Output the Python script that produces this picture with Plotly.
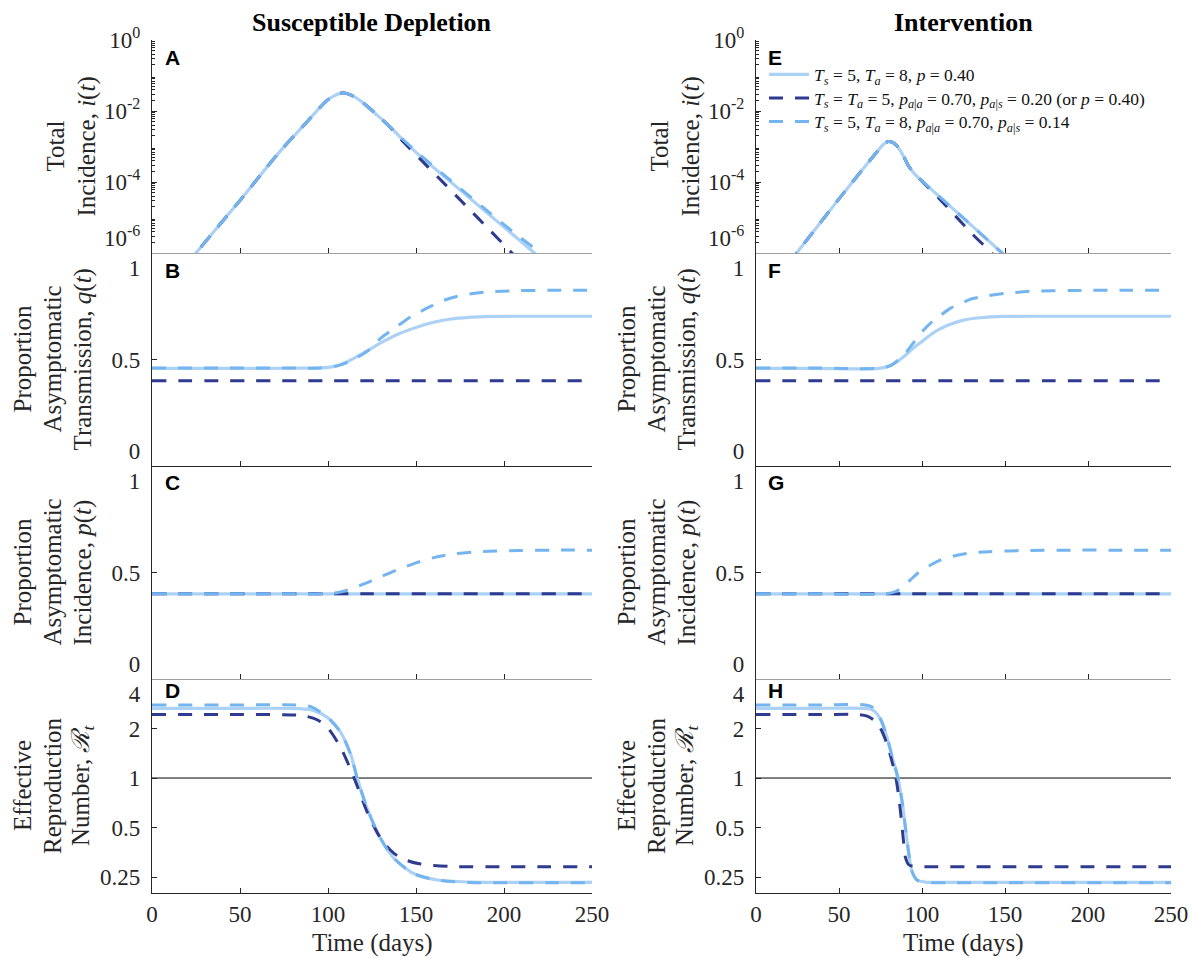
import numpy as np
import plotly.graph_objects as go

W, H = 1192, 958

# ---------------- data: Susceptible Depletion (left column) ----------------
# A: total incidence (log10 of i(t))
sd_inc_t_solid = [0, 25, 49, 72, 88, 99.5, 104, 108, 112, 116, 120.4, 128, 135.6, 143, 150.8, 170, 190, 205, 217.3, 235]
sd_inc_solid_log10 = [-7.53, -6.0, -4.58, -3.18, -2.31, -1.70, -1.56, -1.49, -1.53, -1.63, -1.79, -2.12, -2.46, -2.83, -3.2, -4.01, -4.85, -5.48, -6.0, -6.75]
sd_inc_t_navy = [0, 25, 49, 72, 88, 99.5, 104, 108, 112, 116, 120.4, 128, 135.6, 143, 152.3, 165, 178, 192, 204.5, 215]
sd_inc_navy_log10 = [-7.53, -6.0, -4.58, -3.18, -2.31, -1.70, -1.56, -1.49, -1.53, -1.63, -1.79, -2.12, -2.47, -2.88, -3.35, -3.99, -4.65, -5.36, -6.0, -6.55]
sd_inc_t_med = [0, 25, 49, 72, 88, 99.5, 104, 108, 112, 116, 120.4, 128, 135.6, 143, 150.8, 170, 190, 205, 220.7, 240]
sd_inc_med_log10 = [-7.53, -6.0, -4.58, -3.18, -2.31, -1.70, -1.56, -1.49, -1.53, -1.63, -1.79, -2.12, -2.46, -2.82, -3.17, -3.97, -4.79, -5.4, -6.0, -6.8]

# B: proportion asymptomatic transmission q(t)
sd_q_t_solid = [0, 40, 80, 95, 100, 105, 111.6, 120, 131.8, 140, 150.8, 160, 169.8, 180, 188.8, 205, 225, 250]
sd_q_solid = [0.458, 0.458, 0.459, 0.46, 0.463, 0.47, 0.492, 0.53, 0.586, 0.62, 0.653, 0.675, 0.69, 0.698, 0.701, 0.703, 0.703, 0.703]
sd_q_t_navy = [0, 125, 250]
sd_q_navy = [0.40, 0.40, 0.40]
sd_q_t_med = [0, 40, 80, 95, 105, 112, 122.3, 130, 139.4, 147, 156.5, 165, 173.6, 188.8, 207.8, 230, 250]
sd_q_med = [0.46, 0.46, 0.46, 0.46, 0.47, 0.49, 0.539, 0.60, 0.656, 0.70, 0.742, 0.775, 0.797, 0.816, 0.823, 0.825, 0.825]

# C: proportion asymptomatic incidence p(t)
sd_p_t_solid = [0, 125, 250]
sd_p_solid = [0.40, 0.40, 0.40]
sd_p_t_navy = [0, 125, 250]
sd_p_navy = [0.40, 0.40, 0.40]
sd_p_t_med = [0, 40, 80, 98, 105, 112, 120, 130, 140, 150, 160, 172, 188, 208, 230, 250]
sd_p_med = [0.40, 0.40, 0.40, 0.40, 0.405, 0.42, 0.445, 0.48, 0.515, 0.545, 0.57, 0.588, 0.599, 0.603, 0.605, 0.605]

# D: effective reproduction number R_t
sd_r_t_solid = [0, 40, 84, 92, 99.5, 107.1, 112.8, 116.6, 122.3, 129.9, 137.5, 148.9, 162.2, 180, 200, 225, 250]
sd_r_solid = [2.65, 2.65, 2.64, 2.57, 2.34, 1.90, 1.40, 1.0, 0.652, 0.429, 0.325, 0.262, 0.240, 0.233, 0.232, 0.232, 0.232]
sd_r_t_navy = [0, 40, 80, 87, 93.8, 99.5, 107.1, 114.7, 122.3, 129.9, 137.5, 145, 152.7, 170, 200, 225, 250]
sd_r_navy = [2.43, 2.43, 2.42, 2.38, 2.26, 2.04, 1.54, 1.01, 0.62, 0.43, 0.348, 0.315, 0.30, 0.29, 0.289, 0.289, 0.289]
sd_r_t_med = [0, 40, 85, 90, 95, 99.5, 107.1, 112.8, 116.6, 122.3, 129.9, 137.5, 148.9, 162.2, 180, 200, 225, 250]
sd_r_med = [2.78, 2.78, 2.77, 2.72, 2.55, 2.36, 1.90, 1.40, 1.0, 0.652, 0.429, 0.325, 0.262, 0.240, 0.232, 0.231, 0.231, 0.231]

# ---------------- data: Intervention (right column) ----------------
iv_inc_t_solid = [0, 24.5, 50.6, 72.7, 77, 79.7, 82, 84.7, 88.7, 91.8, 94.8, 98.8, 110, 125, 140, 147, 160]
iv_inc_solid_log10 = [-7.45, -6.0, -4.44, -3.16, -2.93, -2.86, -2.88, -2.97, -3.26, -3.54, -3.73, -3.92, -4.39, -5.02, -5.65, -5.95, -6.5]
iv_inc_t_navy = [0, 24.5, 50.6, 72.7, 77, 79.7, 82, 84.7, 88.7, 91.8, 94.8, 98.8, 110, 120, 130, 142, 150]
iv_inc_navy_log10 = [-7.45, -6.0, -4.44, -3.16, -2.93, -2.86, -2.88, -2.97, -3.26, -3.54, -3.73, -3.92, -4.45, -4.95, -5.45, -6.0, -6.4]
iv_inc_t_med = [0, 24.5, 50.6, 72.7, 77, 79.7, 82, 84.7, 88.7, 91.8, 94.8, 98.8, 110, 125, 140, 147, 160]
iv_inc_med_log10 = [-7.45, -6.0, -4.44, -3.16, -2.93, -2.86, -2.88, -2.97, -3.26, -3.54, -3.73, -3.92, -4.39, -5.02, -5.65, -5.95, -6.5]

iv_q_t_solid = [0, 35, 74, 80, 85, 90, 95, 100, 105, 110, 117, 125, 135, 150, 175, 200, 225, 250]
iv_q_solid = [0.458, 0.458, 0.458, 0.47, 0.49, 0.52, 0.555, 0.585, 0.615, 0.64, 0.665, 0.685, 0.696, 0.702, 0.703, 0.703, 0.703, 0.703]
iv_q_t_navy = [0, 125, 250]
iv_q_navy = [0.40, 0.40, 0.40]
iv_q_t_med = [0, 35, 76, 82, 86, 90, 95, 100, 105, 110, 117, 124, 130, 140, 150, 165, 190, 220, 250]
iv_q_med = [0.46, 0.46, 0.46, 0.475, 0.50, 0.53, 0.58, 0.63, 0.67, 0.70, 0.74, 0.765, 0.785, 0.80, 0.81, 0.82, 0.824, 0.825, 0.825]

iv_p_t_solid = [0, 125, 250]
iv_p_solid = [0.40, 0.40, 0.40]
iv_p_t_navy = [0, 125, 250]
iv_p_navy = [0.40, 0.40, 0.40]
iv_p_t_med = [0, 35, 78, 84, 88, 93, 98, 104, 110, 118, 128, 140, 160, 190, 220, 250]
iv_p_med = [0.40, 0.40, 0.40, 0.41, 0.43, 0.465, 0.50, 0.53, 0.555, 0.575, 0.59, 0.598, 0.603, 0.605, 0.605, 0.605]

iv_r_t_solid = [0, 35, 66, 70, 73, 76, 79, 82, 85.5, 88, 90, 92, 94, 97, 102, 115, 150, 200, 250]
iv_r_solid = [2.65, 2.65, 2.65, 2.6, 2.45, 2.15, 1.75, 1.35, 1.0, 0.72, 0.5, 0.35, 0.27, 0.24, 0.233, 0.232, 0.232, 0.232, 0.232]
iv_r_t_navy = [0, 35, 62, 67, 71, 75, 79, 82, 84.3, 86.5, 88.5, 90, 92, 95, 105, 150, 200, 250]
iv_r_navy = [2.43, 2.43, 2.43, 2.38, 2.25, 2.0, 1.6, 1.25, 1.0, 0.7, 0.45, 0.33, 0.297, 0.29, 0.289, 0.289, 0.289, 0.289]
iv_r_t_med = [0, 35, 66, 70, 73, 76, 79, 82, 85.5, 88, 90, 92, 94, 97, 102, 115, 150, 200, 250]
iv_r_med = [2.78, 2.78, 2.78, 2.7, 2.5, 2.18, 1.77, 1.35, 1.0, 0.72, 0.5, 0.35, 0.27, 0.24, 0.232, 0.231, 0.231, 0.231, 0.231]

# ---------------- labels ----------------
col_titles = ["Susceptible Depletion", "Intervention"]
panel_letters = ["A", "B", "C", "D", "E", "F", "G", "H"]
y_title_lines = [
    ["Total", "Incidence, <i>i</i>(<i>t</i>)"],
    ["Proportion", "Asymptomatic", "Transmission, <i>q</i>(<i>t</i>)"],
    ["Proportion", "Asymptomatic", "Incidence, <i>p</i>(<i>t</i>)"],
    ["Effective", "Reproduction", "Number, <i>ℛ</i><sub><i>t</i></sub>"],
]
x_title = "Time (days)"
legend_names = [
    "<i>T<sub>s</sub></i> = 5, <i>T<sub>a</sub></i> = 8, <i>p</i> = 0.40",
    "<i>T<sub>s</sub></i> = <i>T<sub>a</sub></i> = 5, <i>p</i><sub><i>a</i>|<i>a</i></sub> = 0.70, <i>p</i><sub><i>a</i>|<i>s</i></sub> = 0.20 (or <i>p</i> = 0.40)",
    "<i>T<sub>s</sub></i> = 5, <i>T<sub>a</sub></i> = 8, <i>p</i><sub><i>a</i>|<i>a</i></sub> = 0.70, <i>p</i><sub><i>a</i>|<i>s</i></sub> = 0.14",
]
x_ticks = [0, 50, 100, 150, 200, 250]
inc_ticks = [1e-6, 1e-4, 1e-2, 1]
inc_ticktext = ["10<sup>-6</sup><br> ", "10<sup>-4</sup>", "10<sup>-2</sup>", "10<sup>0</sup>"]
prop_ticks = [0, 0.5, 1]
prop_ticktext = ["0<br> ", "0.5", "<br>1"]
r_ticks = [0.25, 0.5, 1, 2, 4]
r_ticktext = ["0.25", "0.5", "1", "2", "<br>4"]

# ---------------- style ----------------
C_SOLID = "#abd2f5"
C_NAVY = "#2f3b8e"
C_MED = "#74b5ef"
SERIF = "Liberation Serif, Times New Roman, serif"
SANS = "Liberation Sans, Arial, sans-serif"
AX = "#262626"
TICKFONT = dict(family=SERIF, size=23, color=AX)

XL = [152 / W, 592 / W]
XR = [756 / W, 1171 / W]
rows_px = [(40, 253), (253, 466), (466, 679), (679, 893)]
xline_colors = ["#a0a0a0", "#262626", "#a0a0a0", "#262626"]


def ydom(top, bot):
    return [1 - bot / H, 1 - top / H]


fig = go.Figure()

series = {
    1: [(sd_inc_t_solid, 10 ** np.array(sd_inc_solid_log10)), (sd_inc_t_navy, 10 ** np.array(sd_inc_navy_log10)), (sd_inc_t_med, 10 ** np.array(sd_inc_med_log10))],
    2: [(sd_q_t_solid, sd_q_solid), (sd_q_t_navy, sd_q_navy), (sd_q_t_med, sd_q_med)],
    3: [(sd_p_t_solid, sd_p_solid), (sd_p_t_navy, sd_p_navy), (sd_p_t_med, sd_p_med)],
    4: [(sd_r_t_solid, sd_r_solid), (sd_r_t_navy, sd_r_navy), (sd_r_t_med, sd_r_med)],
    5: [(iv_inc_t_solid, 10 ** np.array(iv_inc_solid_log10)), (iv_inc_t_navy, 10 ** np.array(iv_inc_navy_log10)), (iv_inc_t_med, 10 ** np.array(iv_inc_med_log10))],
    6: [(iv_q_t_solid, iv_q_solid), (iv_q_t_navy, iv_q_navy), (iv_q_t_med, iv_q_med)],
    7: [(iv_p_t_solid, iv_p_solid), (iv_p_t_navy, iv_p_navy), (iv_p_t_med, iv_p_med)],
    8: [(iv_r_t_solid, iv_r_solid), (iv_r_t_navy, iv_r_navy), (iv_r_t_med, iv_r_med)],
}
styles = [
    dict(color=C_SOLID, width=3.2, dash="solid"),
    dict(color=C_NAVY, width=3.0, dash="14px,12px"),
    dict(color=C_MED, width=3.0, dash="14px,12px"),
]
legend_ids = ["legend", "legend2", "legend3"]

for k in range(1, 9):
    xa = "x" if k == 1 else f"x{k}"
    ya = "y" if k == 1 else f"y{k}"
    if k in (4, 8):
        fig.add_trace(go.Scatter(x=[0, 250], y=[1, 1], mode="lines", xaxis=xa, yaxis=ya,
                                 line=dict(color="black", width=1), showlegend=False, hoverinfo="skip"))
    for i, (tx, vy) in enumerate(series[k]):
        fig.add_trace(go.Scatter(
            x=tx, y=vy, mode="lines", xaxis=xa, yaxis=ya,
            line=dict(shape="spline", smoothing=0.8, **styles[i]),
            name=legend_names[i], showlegend=(k == 5), legend=legend_ids[i],
        ))

minor_inc = [m * 10.0 ** e for e in range(-6, 0) for m in range(2, 10)]

legend_rows_px = [74.5, 98, 121.5]
layout = dict(
    template="none",
    width=W, height=H, autosize=False,
    margin=dict(l=0, r=0, t=0, b=0, pad=0, autoexpand=False),
    paper_bgcolor="white", plot_bgcolor="white",
    font=dict(family=SERIF, color=AX),
    showlegend=True,
)
for i, lid in enumerate(legend_ids):
    layout[lid] = dict(x=764 / W, y=1 - legend_rows_px[i] / H, xanchor="left", yanchor="middle",
                       bgcolor="rgba(0,0,0,0)", borderwidth=0,
                       font=dict(family=SERIF, size=17.5, color="#111"), itemwidth=40)

for k in range(1, 9):
    col = 0 if k <= 4 else 1
    row = (k - 1) % 4
    top, bot = rows_px[row]
    xkey = "xaxis" if k == 1 else f"xaxis{k}"
    ykey = "yaxis" if k == 1 else f"yaxis{k}"
    anchor_y = "y" if k == 1 else f"y{k}"
    anchor_x = "x" if k == 1 else f"x{k}"
    layout[xkey] = dict(
        domain=XL if col == 0 else XR, anchor=anchor_y, range=[0, 250], automargin=False,
        showline=True, linecolor=xline_colors[row], linewidth=1,
        ticks="inside", ticklen=5, tickcolor=AX, tickvals=x_ticks,
        showticklabels=(row == 3), tickfont=TICKFONT, ticklabelstandoff=0,
        showgrid=False, zeroline=False, fixedrange=True,
    )
    ya = dict(
        domain=ydom(top, bot), anchor=anchor_x, automargin=False,
        showline=True, linecolor=AX, linewidth=1.2,
        ticks="inside", ticklen=5, tickcolor=AX, tickfont=TICKFONT,
        ticklabelstandoff=6, showgrid=False, zeroline=False, fixedrange=True,
    )
    if row == 0:
        ya.update(type="log", range=[-6, 0], tickvals=inc_ticks, ticktext=inc_ticktext,
                  minor=dict(tickmode="array", tickvals=minor_inc, ticks="inside", ticklen=3, tickcolor=AX))
    elif row in (1, 2):
        ya.update(range=[0, 1], tickvals=prop_ticks, ticktext=prop_ticktext)
    else:
        ya.update(type="log", range=[np.log10(0.2), np.log10(4)], tickvals=r_ticks, ticktext=r_ticktext)
    layout[ykey] = ya

annotations = []
# column titles
for col, title in enumerate(col_titles):
    dom = XL if col == 0 else XR
    annotations.append(dict(text=f"<b>{title}</b>", x=(dom[0] + dom[1]) / 2, y=1 - 22 / H,
                            xref="paper", yref="paper", xanchor="center", yanchor="middle",
                            showarrow=False, font=dict(family=SERIF, size=26, color="black")))
# panel letters
letter_y = [57.5, 271, 482.5, 690.5]
for k in range(8):
    col = 0 if k < 4 else 1
    row = k % 4
    x0 = (163 if col == 0 else 766) / W
    annotations.append(dict(text=f"<b>{panel_letters[k]}</b>", x=x0, y=1 - letter_y[row] / H,
                            xref="paper", yref="paper", xanchor="left", yanchor="middle",
                            showarrow=False, font=dict(family=SANS, size=21, color="black")))
# y titles, one annotation per line
line_x = {2: [55, 86], 3: [22, 52, 82]}
for col in range(2):
    off = 0 if col == 0 else 604
    for row in range(4):
        top, bot = rows_px[row]
        lines = y_title_lines[row]
        for j, txt in enumerate(lines):
            annotations.append(dict(text=txt, textangle=-90,
                                    x=(line_x[len(lines)][j] + off) / W, y=1 - (top + bot) / 2 / H,
                                    xref="paper", yref="paper", xanchor="center", yanchor="middle",
                                    showarrow=False, font=dict(family=SERIF, size=25, color="#262626")))
# x titles
for dom in (XL, XR):
    annotations.append(dict(text=x_title, x=(dom[0] + dom[1]) / 2, y=1 - 943 / H,
                            xref="paper", yref="paper", xanchor="center", yanchor="middle",
                            showarrow=False, font=dict(family=SERIF, size=25, color="#262626")))
layout["annotations"] = annotations

fig.update_layout(**layout)
fig.write_html(
    "out.html",
    config={"displayModeBar": False, "responsive": False},
    post_script="document.body.style.margin='0';document.body.style.padding='0';"
                "document.documentElement.style.overflow='hidden';",
)
